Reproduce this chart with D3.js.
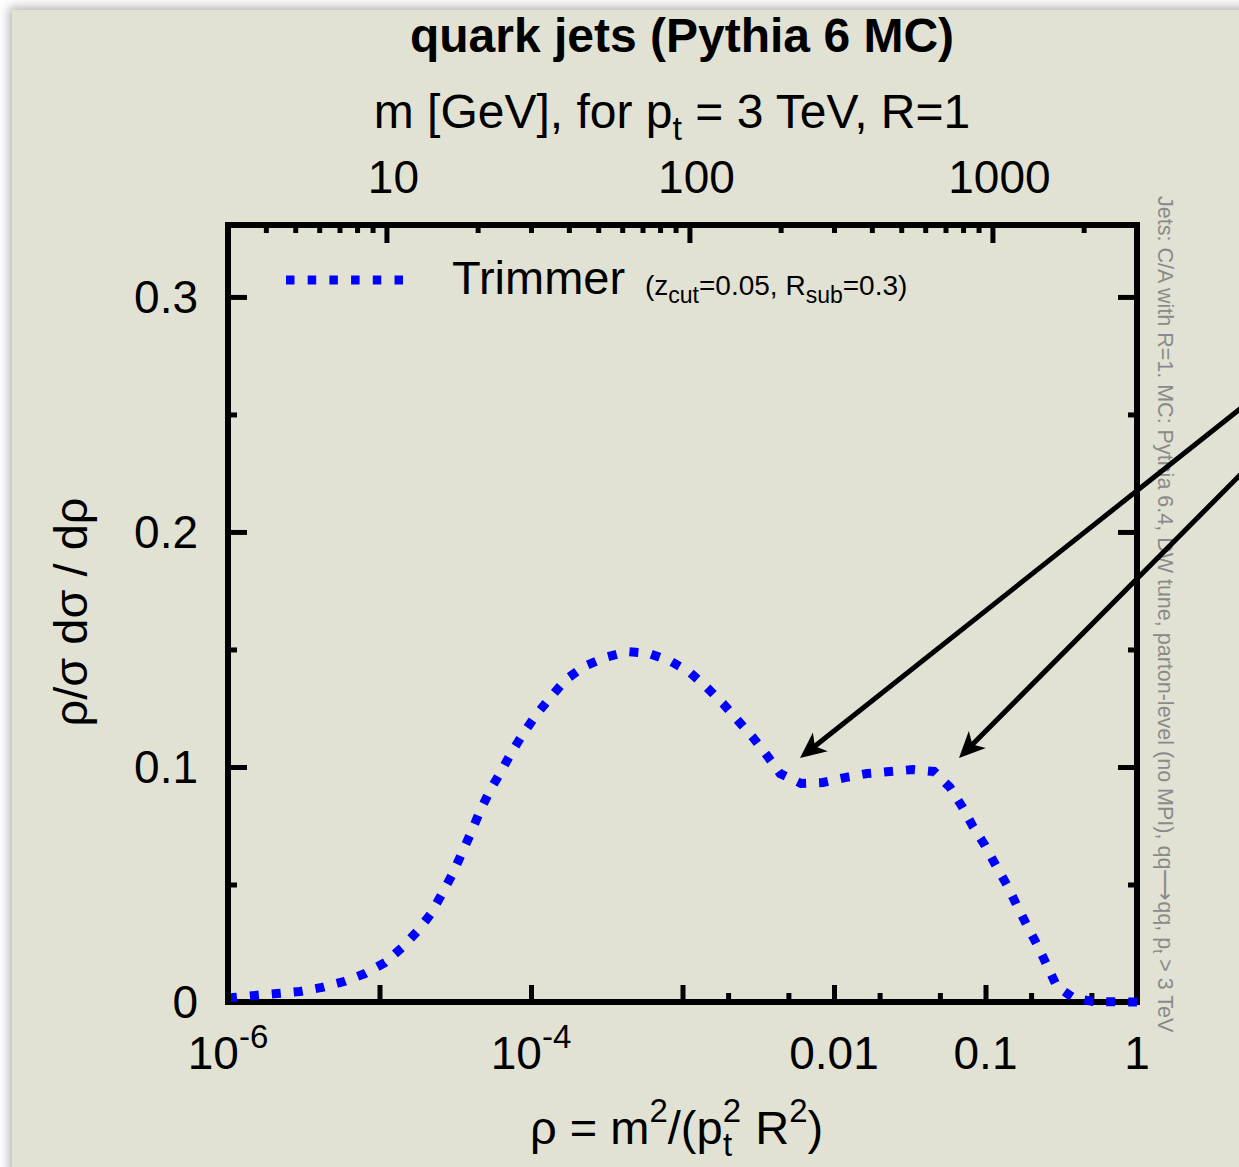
<!DOCTYPE html>
<html>
<head>
<meta charset="utf-8">
<script src="https://cdn.jsdelivr.net/npm/d3@7"></script>
<style>
  html, body { margin: 0; padding: 0; background: #ffffff; width: 1239px; height: 1167px; overflow: hidden; }
  #panel { position: absolute; left: 12px; top: 10px; width: 1260px; height: 1200px;
           background: #e2e2d4; box-shadow: 0 0 10px 3px rgba(0,0,0,0.30); }
  svg { position: absolute; left: 0; top: 0; }
  text { font-family: "Liberation Sans", Arial, Helvetica, sans-serif; fill: #000; }
</style>
</head>
<body>
<div id="panel"></div>
<svg id="chart" width="1239" height="1167"></svg>
<script>
// ---------------- data ----------------
const rho = [1e-6, 1.08e-6, 1.51e-6, 2.10e-6, 2.99e-6, 4.17e-6, 5.83e-6, 8.02e-6,
  1.09e-5, 1.41e-5, 1.77e-5, 2.19e-5, 2.59e-5, 3.05e-5, 3.51e-5, 4.02e-5, 4.60e-5,
  5.36e-5, 6.34e-5, 7.50e-5, 8.99e-5, 1.10e-4, 1.36e-4, 1.70e-4, 2.24e-4, 3.08e-4,
  4.31e-4, 6.01e-4, 8.39e-4, 1.12e-3, 1.45e-3, 1.85e-3, 2.32e-3, 2.92e-3, 3.61e-3,
  4.41e-3, 6.05e-3, 8.45e-3, 1.18e-2, 1.65e-2, 2.34e-2, 3.32e-2, 4.57e-2, 5.83e-2,
  7.00e-2, 8.26e-2, 9.93e-2, 0.117, 0.139, 0.161, 0.188, 0.219, 0.255, 0.296, 0.378,
  0.513, 1.0];
const trimmer = [0.0016, 0.0019, 0.0028, 0.0036, 0.0045, 0.0062, 0.0087, 0.0121,
  0.0168, 0.0232, 0.0300, 0.0376, 0.0462, 0.0547, 0.0636, 0.0721, 0.0811,
  0.0900, 0.0981, 0.1066, 0.1147, 0.1228, 0.1300, 0.1372, 0.1428, 0.1466,
  0.1491, 0.1483, 0.1449, 0.1402, 0.1338, 0.1270, 0.1198, 0.1125, 0.1049,
  0.0972, 0.0930, 0.0934, 0.0955, 0.0972, 0.0981, 0.0989, 0.0981, 0.0913,
  0.0832, 0.0747, 0.0666, 0.0581, 0.0496, 0.0411, 0.0325, 0.0244, 0.0155, 0.0066, 0.0019,
  0.0002, 0.0];

const xMajorTicks = [1e-6, 1e-5, 1e-4, 1e-3, 1e-2, 1e-1, 1];
const xMinorTicks = [0.002, 0.005, 0.02, 0.05, 0.2, 0.5];
const xLabelValues = [1e-6, 1e-4, 0.01, 0.1, 1];
const xLabelBase  = ["10", "10", "0.01", "0.1", "1"];
const xLabelSup   = ["-6", "-4", "", "", ""];

const mMajorTicks = [10, 100, 1000];
const mMinorTicks = [4, 5, 6, 7, 8, 9, 20, 30, 40, 50, 60, 70, 80, 90,
                     200, 300, 400, 500, 600, 700, 800, 900, 2000];
const mLabels = ["10", "100", "1000"];

const yMajorTicks = [0.1, 0.2, 0.3];
const yMinorTicks = [0.05, 0.15, 0.25];
const yLabelValues = [0, 0.1, 0.2, 0.3];
const yLabels = ["0", "0.1", "0.2", "0.3"];

// arrows: start (off the right edge) and the point they mark on the curve
const arrowFrom = [[1245, 405], [1245, 470]];
const arrowTo   = [[800, 758], [959, 758]];

// ---------------- layout ----------------
const L = 228, R = 1137, T = 225, B = 1002;
const svg = d3.select("#chart");

const x = d3.scaleLog().domain([1e-6, 1]).range([L, R]);
const xm = d3.scaleLog().domain([3, 3000]).range([L, R]);   // m = 3 TeV * sqrt(rho)
const y = d3.scaleLinear().domain([0, 0.3306]).range([B, T]);

// frame
svg.append("rect").attr("x", L).attr("y", T).attr("width", R - L).attr("height", B - T)
  .attr("fill", "none").attr("stroke", "#000").attr("stroke-width", 6);

function tickAxis(axis, tr) {
  const g = svg.append("g").attr("transform", tr).call(axis);
  g.select(".domain").remove();
  g.selectAll(".tick line").attr("stroke", "#000").attr("stroke-width", 5);
  g.selectAll(".tick text").remove();
  return g;
}
// bottom
tickAxis(d3.axisBottom(x).tickValues(xMajorTicks).tickSize(-17), `translate(0,${B})`);
tickAxis(d3.axisBottom(x).tickValues(xMinorTicks).tickSize(-9), `translate(0,${B})`);
// top (mass)
tickAxis(d3.axisTop(xm).tickValues(mMajorTicks).tickSize(-18), `translate(0,${T})`);
tickAxis(d3.axisTop(xm).tickValues(mMinorTicks).tickSize(-8), `translate(0,${T})`);
// left / right
tickAxis(d3.axisLeft(y).tickValues(yMajorTicks).tickSize(-19), `translate(${L},0)`);
tickAxis(d3.axisLeft(y).tickValues(yMinorTicks).tickSize(-9), `translate(${L},0)`);
tickAxis(d3.axisRight(y).tickValues(yMajorTicks).tickSize(-19), `translate(${R},0)`);
tickAxis(d3.axisRight(y).tickValues(yMinorTicks).tickSize(-9), `translate(${R},0)`);

// x tick labels
xLabelValues.forEach((v, i) => {
  const t = svg.append("text").attr("x", x(v)).attr("y", 1069)
    .attr("text-anchor", "middle").attr("font-size", 46);
  t.append("tspan").text(xLabelBase[i]);
  if (xLabelSup[i]) t.append("tspan").attr("font-size", 33).attr("dy", -21).text(xLabelSup[i]);
});
// top labels
mMajorTicks.forEach((v, i) => {
  svg.append("text").attr("x", xm(v) + 7).attr("y", 193)
    .attr("text-anchor", "middle").attr("font-size", 46).text(mLabels[i]);
});
// y labels
yLabelValues.forEach((v, i) => {
  svg.append("text").attr("x", 198).attr("y", y(v) + 16)
    .attr("text-anchor", "end").attr("font-size", 46).text(yLabels[i]);
});

// titles
svg.append("text").attr("x", 682).attr("y", 52).attr("text-anchor", "middle")
  .attr("font-size", 48).attr("font-weight", "bold").text("quark jets (Pythia 6 MC)");
const st = svg.append("text").attr("x", 672).attr("y", 128).attr("text-anchor", "middle")
  .attr("font-size", 48);
st.append("tspan").text("m [GeV], for p");
st.append("tspan").attr("font-size", 34).attr("dy", 12).text("t");
st.append("tspan").attr("dy", -12).text(" = 3 TeV, R=1");

// x axis label
const xl = svg.append("text").attr("x", 530).attr("y", 1144).attr("font-size", 47);
xl.append("tspan").text("ρ = m");
xl.append("tspan").attr("font-size", 33).attr("dy", -22).text("2");
xl.append("tspan").attr("dy", 22).text("/(p");
xl.append("tspan").attr("font-size", 33).attr("dy", -22).text("2");
xl.append("tspan").attr("font-size", 33).attr("dx", -18).attr("dy", 34).text("t");
xl.append("tspan").attr("dx", 10).attr("dy", -12).text(" R");
xl.append("tspan").attr("font-size", 33).attr("dy", -22).text("2");
xl.append("tspan").attr("dy", 22).text(")");

// y axis label
svg.append("text").attr("transform", "translate(87,612) rotate(-90)")
  .attr("text-anchor", "middle").attr("font-size", 47).text("ρ/σ dσ / dρ");

// right side note
const note = svg.append("text").attr("transform", "translate(1158,196) rotate(90)")
  .attr("font-size", 21.5).style("fill", "#8a8a8a");
note.append("tspan").text("Jets: C/A with R=1. MC: Pythia 6.4, DW tune, parton-level (no MPI), qq⟶qq, p");
note.append("tspan").attr("font-size", 15).attr("dy", 5).text("t");
note.append("tspan").attr("dy", -5).text(" > 3 TeV");

// legend
const legY = 280;
svg.append("line").attr("x1", 286).attr("x2", 410).attr("y1", legY).attr("y2", legY)
  .attr("stroke", "#0000ff").attr("stroke-width", 9).attr("stroke-dasharray", "8.5 13.2");
const lt = svg.append("text").attr("x", 452).attr("y", 294).attr("font-size", 47);
lt.append("tspan").text("Trimmer");
const ls = svg.append("text").attr("x", 645).attr("y", 295).attr("font-size", 28);
ls.append("tspan").text("(z");
ls.append("tspan").attr("font-size", 23).attr("dy", 8).text("cut");
ls.append("tspan").attr("dy", -8).text("=0.05, R");
ls.append("tspan").attr("font-size", 23).attr("dy", 8).text("sub");
ls.append("tspan").attr("dy", -8).text("=0.3)");

// curve
svg.append("clipPath").attr("id", "clip").append("rect")
  .attr("x", L + 3).attr("y", 0).attr("width", R - L + 10).attr("height", B + 10);
const line = d3.line().x((d, i) => x(rho[i])).y((d, i) => y(trimmer[i])).curve(d3.curveLinear);
svg.append("path").datum(trimmer).attr("d", line).attr("clip-path", "url(#clip)")
  .attr("fill", "none").attr("stroke", "#0000ff").attr("stroke-width", 9)
  .attr("stroke-dasharray", "9 13").attr("stroke-dashoffset", 0);

// arrows
const defs = svg.append("defs");
defs.append("marker").attr("id", "ah").attr("markerUnits", "userSpaceOnUse")
  .attr("viewBox", "-20 -15 40 30").attr("markerWidth", 40).attr("markerHeight", 30)
  .attr("refX", 0).attr("refY", 0).attr("orient", "auto")
  .append("path").attr("d", "M12,0 L-14,-12 L-7,0 L-14,12 Z").attr("fill", "#000");
arrowFrom.forEach((s, i) => {
  const e = arrowTo[i];
  const dx = e[0] - s[0], dy = e[1] - s[1], len = Math.hypot(dx, dy);
  const ex = e[0] - 12 * dx / len, ey = e[1] - 12 * dy / len;
  svg.append("line").attr("x1", s[0]).attr("y1", s[1]).attr("x2", ex).attr("y2", ey)
    .attr("stroke", "#000").attr("stroke-width", 5).attr("marker-end", "url(#ah)");
});
</script>
</body>
</html>
